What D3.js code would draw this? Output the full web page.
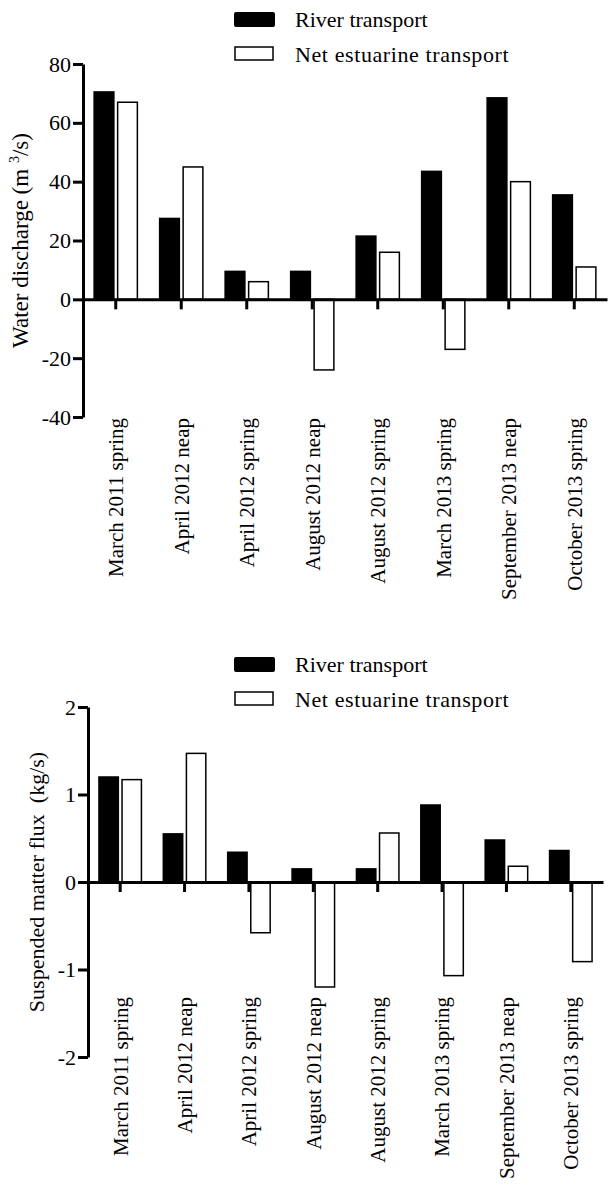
<!DOCTYPE html>
<html>
<head>
<meta charset="utf-8">
<script src="https://cdn.jsdelivr.net/npm/d3@7"></script>
<style>
body { margin: 0; background: #fff; }
svg text { font-family: "Liberation Serif", "Times New Roman", serif; fill: #000; }
</style>
</head>
<body>
<svg id="chart" width="608" height="1185"></svg>
<script>
// data
const categories = ["March 2011 spring", "April 2012 neap", "April 2012 spring", "August 2012 neap",
    "August 2012 spring", "March 2013 spring", "September 2013 neap", "October 2013 spring"]
const series = ["River transport", "Net estuarine transport"]

const dischargeRiver = [70.5, 27.5, 9.5, 9.5, 21.5, 43.5, 68.5, 35.5]
const dischargeNet = [67, 45, 6, -24, 16, -17, 40, 11]
const dischargeTicks = [-40, -20, 0, 20, 40, 60, 80]

const fluxRiver = [1.2, 0.55, 0.34, 0.15, 0.15, 0.88, 0.48, 0.36]
const fluxNet = [1.17, 1.47, -0.58, -1.2, 0.56, -1.07, 0.18, -0.91]
const fluxTicks = [-2, -1, 0, 1, 2]

const svg = d3.select("#chart")
const fs = 22

function drawPanel(p) {
    const g = svg.append("g")

    const x0 = d3.scaleBand()
        .domain(categories)
        .range([p.left, p.right])
        .paddingInner(0.34)
        .paddingOuter(0.17)
    const x1 = d3.scaleBand()
        .domain(series)
        .range([0, x0.bandwidth()])
        .paddingInner(0.16)
    const y = d3.scaleLinear()
        .domain(d3.extent(p.ticks))
        .range([p.bottom, p.top])

    const rows = categories.map((c, i) => ({cat: c, vals: [p.river[i], p.net[i]]}))

    // bars
    const grp = g.selectAll(".grp")
        .data(rows)
        .enter().append("g")
        .attr("transform", d => "translate(" + x0(d.cat) + ",0)")
    grp.selectAll("rect")
        .data(d => d.vals.map((v, j) => ({s: series[j], v: v})))
        .enter().append("rect")
        .attr("x", d => x1(d.s))
        .attr("width", x1.bandwidth())
        .attr("y", d => y(Math.max(0, d.v)))
        .attr("height", d => Math.abs(y(d.v) - y(0)))
        .attr("fill", d => d.s === series[0] ? "#000" : "#fff")
        .attr("stroke", "#000")
        .attr("stroke-width", 1.5)

    // y axis, hyphen minus like the original
    const gy = g.append("g")
        .attr("transform", "translate(" + p.left + ",0)")
        .call(d3.axisLeft(y).tickValues(p.ticks).tickSize(10).tickPadding(2).tickSizeOuter(0)
            .tickFormat(d => String(d)))
    gy.selectAll("path, line").attr("stroke", "#000").attr("stroke-width", 3)
    gy.selectAll("text").attr("font-size", fs).attr("font-family", "Liberation Serif")

    // x axis at zero
    const gx = g.append("g")
        .attr("transform", "translate(0," + y(0) + ")")
        .call(d3.axisBottom(x0).tickSize(10).tickSizeOuter(0).tickFormat(""))
    gx.select(".domain").attr("stroke", "#000").attr("stroke-width", 3)
    gx.selectAll("line").attr("stroke", "#000").attr("stroke-width", 3)

    // category labels, rotated
    const gl = g.append("g")
        .attr("transform", "translate(0," + p.labelY + ")")
        .call(d3.axisBottom(x0).tickSize(0))
    gl.select(".domain").remove()
    gl.selectAll("text")
        .attr("font-size", 21)
        .attr("font-family", "Liberation Serif")
        .attr("transform", "rotate(-90)")
        .attr("x", 0)
        .attr("y", 0)
        .attr("dy", "0.35em")
        .attr("text-anchor", "end")

    // y title
    const t = g.append("text")
        .attr("transform", "translate(" + p.titleX + "," + (p.top + p.bottom) / 2 + ") rotate(-90)")
        .attr("text-anchor", "middle")
        .attr("font-size", p.titleSize)
        .style("white-space", "pre")
    p.title(t)

    // legend
    const lg = g.append("g")
    lg.append("rect")
        .attr("x", 234).attr("y", p.legendY).attr("width", 41).attr("height", 15).attr("rx", 2)
        .attr("fill", "#000")
    lg.append("rect")
        .attr("x", 235).attr("y", p.legendY + 35).attr("width", 38).attr("height", 13)
        .attr("fill", "#fff").attr("stroke", "#000").attr("stroke-width", 1.5)
    lg.append("text").attr("x", 295).attr("y", p.legendY + 15).attr("font-size", fs).text(series[0])
    lg.append("text").attr("x", 295).attr("y", p.legendY + 50).attr("font-size", fs)
        .attr("letter-spacing", 0.6).text(series[1])
}

drawPanel({
    river: dischargeRiver, net: dischargeNet, ticks: dischargeTicks,
    left: 83, right: 607, top: 64, bottom: 417, labelY: 418, titleX: 28, titleSize: 23, legendY: 12,
    title: t => {
        t.append("tspan").text("Water discharge (m ")
        t.append("tspan").attr("font-size", 14).attr("dy", -9).text("3")
        t.append("tspan").attr("dy", 9).text("/s)")
    }
})

drawPanel({
    river: fluxRiver, net: fluxNet, ticks: fluxTicks,
    left: 88, right: 603, top: 707, bottom: 1057, labelY: 997, titleX: 44, titleSize: 22, legendY: 657,
    title: t => t.text("Suspended matter flux  (kg/s)")
})
</script>
</body>
</html>
